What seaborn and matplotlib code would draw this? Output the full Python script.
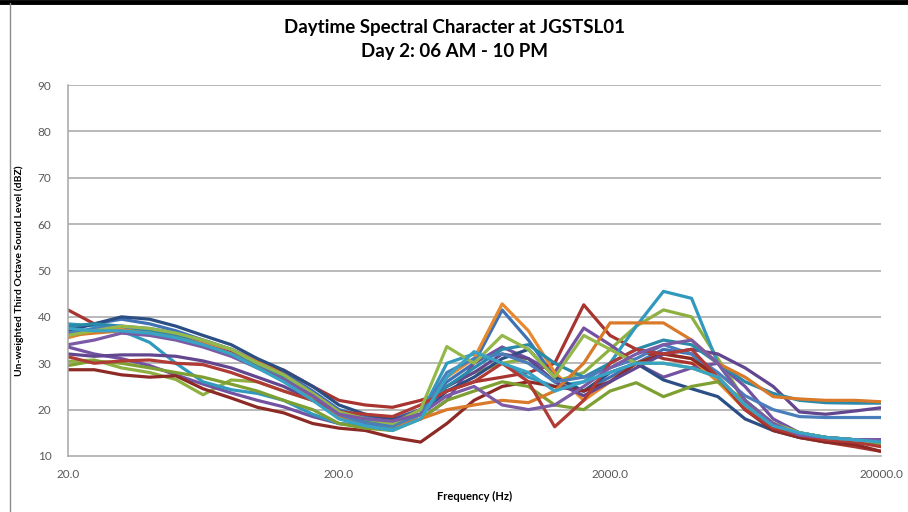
import numpy as np
import pandas as pd
import matplotlib
matplotlib.use("Agg")
import matplotlib.pyplot as plt
from matplotlib.lines import Line2D
import seaborn as sns

freqs = [20, 25, 31.5, 40, 50, 63, 80, 100, 125, 160, 200, 250, 315, 400, 500, 630,
         800, 1000, 1250, 1600, 2000, 2500, 3150, 4000, 5000, 6300, 8000, 10000,
         12500, 16000, 20000]

hours = ["06:00", "07:00", "08:00", "09:00", "10:00", "11:00", "12:00", "13:00", "14:00",
         "15:00", "16:00", "17:00", "18:00", "19:00", "20:00", "21:00", "22:00"]

h06 = [37.5, 38.5, 39.5, 38.5, 37, 35, 33, 30.5, 28, 24, 20, 18.5, 18, 20, 26, 30, 41.5, 35, 27, 24, 27, 30, 33, 32, 27, 21, 17, 15, 14, 13.5, 13.5]
h07 = [41.5, 38.5, 37, 36.5, 35.5, 34, 32.5, 30, 28.5, 25, 22, 21, 20.5, 22, 24, 26, 27, 28, 30, 42.6, 36, 33, 31, 30, 27, 21, 16, 14, 13, 12, 11]
h08 = [30.4, 30.7, 29, 28, 26.5, 23.2, 26.4, 26, 24, 22, 19, 17.5, 16, 19, 25, 28, 30, 31, 26, 28, 33, 38, 41.5, 40, 31, 22, 17, 15, 14, 13.5, 12.5]
h09 = [33.5, 32, 31, 29.5, 27.5, 25.5, 23.6, 22, 20.6, 18.5, 17, 16.5, 16, 18, 22, 30, 33.5, 31, 28, 37.6, 34, 30, 27, 29, 30, 25, 18, 15, 14, 13.5, 13.5]
h10 = [38.5, 38, 37, 34.5, 30, 26, 24.3, 23.5, 22, 19, 17, 16.5, 16, 19, 30, 32, 30, 27, 25, 26, 30, 38, 45.5, 44, 30, 22, 17, 15, 14, 13.5, 13]
h11 = [35.5, 37, 37.5, 37, 36, 34.5, 33, 30.5, 27.5, 23.5, 19.5, 18, 17.5, 19, 27, 31, 42.8, 37, 28, 22, 26, 30, 32, 31, 26, 20, 16.5, 14.5, 13.5, 13, 12.5]
h12 = [37, 38.5, 40, 39.5, 38, 36, 34, 31, 28.5, 25, 21, 19, 18, 19, 24, 27, 31, 33, 27, 24, 28, 30, 26.4, 24.5, 22.8, 18, 15.5, 14, 13.5, 13, 13.5]
h13 = [28.6, 28.6, 27.5, 27, 27.3, 24.5, 22.5, 20.5, 19.3, 17, 16, 15.5, 14, 13, 17, 22, 25, 26, 25, 24, 26, 30, 32, 31, 27, 20, 15.5, 14, 13, 12.5, 11]
h14 = [29.5, 30.5, 30, 29, 28, 27, 25.5, 24, 22, 20, 17, 16, 15.5, 18, 22, 24, 26, 25, 21, 20, 24, 25.8, 22.8, 25, 26, 22, 17, 15, 14, 13.5, 12.5]
h15 = [32, 31.5, 31.8, 31.8, 31.5, 30.5, 29, 27, 25, 22, 19, 18, 17.5, 20, 25, 28, 32, 31, 26, 23, 26, 29, 32, 33, 32, 29, 25, 19.5, 19, 19.7, 20.4]
h16 = [38, 38.5, 38, 37, 36, 34, 32, 29.5, 27, 23, 19, 17.5, 17, 19, 25, 29, 33, 34, 30, 27, 30, 33, 35, 34, 30, 26, 23.5, 22, 21.5, 21.4, 21.4]
h17 = [36, 36.5, 37, 36.5, 35.5, 34, 32, 29, 26.5, 22.5, 18.5, 17, 16.5, 18, 20, 21, 22, 21.5, 24, 30, 38.7, 38.7, 38.7, 35, 30, 27, 22.8, 22.3, 22, 22, 21.7]
h18 = [36.5, 37.5, 38, 37.5, 36.5, 35, 33, 30, 27.5, 23.5, 19, 17, 16.5, 19, 28, 31, 32, 30, 26, 27, 29, 31, 34, 32, 28, 23, 20, 18.5, 18.3, 18.3, 18.3]
h19 = [31.4, 30, 30.5, 30.7, 30, 29.7, 28, 26, 24, 22, 19.5, 19, 18.5, 21, 24, 26, 30, 26, 16.3, 22, 30, 33, 32, 33, 27, 20, 16, 14.5, 13.5, 13, 12]
h20 = [36, 37, 38, 37.5, 36.5, 35, 33, 30, 27.5, 23.5, 19.5, 18, 17, 20, 33.6, 30, 36, 33, 27, 36, 33, 30, 30, 29, 27, 21, 17, 15, 14, 13.5, 13]
h21 = [34, 35, 36.5, 36, 35, 33.5, 31.5, 29, 26.5, 23, 19, 18, 17.5, 19, 23, 25, 21, 20, 21, 25, 29, 32, 34, 35, 30, 22, 17, 14.5, 14, 13.5, 13.5]
h22 = [37.5, 37, 37, 36.5, 35.5, 34, 32, 29, 26, 22, 18, 16.5, 15.5, 18, 27, 32.5, 30, 28, 24, 26, 28, 30, 30, 29, 27, 21, 16.5, 15, 14, 13.5, 13]

series = [h06, h07, h08, h09, h10, h11, h12, h13, h14, h15, h16, h17, h18, h19, h20, h21, h22]

colors = ['#3F72B5', '#A83430', '#8DB040', '#7452A2', '#3099BD', '#E8892F',
          '#2B4F84', '#8E2A25', '#7EA032', '#62468F', '#2A8AAA', '#D9792A',
          '#4A7EBB', '#B03A35', '#94B84A', '#7B5AA6', '#38A3C4']

title_lines = ["Daytime Spectral Character at JGSTSL01", "Day 2: 06 AM - 10 PM"]
x_label = "Frequency (Hz)"
y_label = "Un-weighted Third Octave Sound Level (dBZ)"
x_ticks = [20, 200, 2000, 20000]
y_ticks = [10, 20, 30, 40, 50, 60, 70, 80, 90]

rows = []
for h, vals in zip(hours, series):
    for f, v in zip(freqs, vals):
        rows.append({"hour": h, "freq": f, "level": v})
df = pd.DataFrame(rows)

sns.set_theme(style="white")
plt.rcParams['font.family'] = ['Lato', 'DejaVu Sans']

fig = plt.figure(figsize=(9.08, 5.12), dpi=100)
ax = fig.add_axes([68 / 908, 1 - 456 / 512, (881 - 68) / 908, (456 - 85) / 512])

sns.lineplot(data=df, x="freq", y="level", hue="hour", palette=colors,
             legend=False, linewidth=2.3, ax=ax, sort=True)

ax.set_xscale("log")
ax.set_xlim(20, 20000)
ax.set_ylim(10, 90)
ax.set_xticks(x_ticks)
ax.set_xticklabels([f"{t:.1f}" for t in x_ticks])
ax.xaxis.set_minor_locator(matplotlib.ticker.NullLocator())
ax.set_yticks(y_ticks)
ax.set_yticklabels([str(t) for t in y_ticks])
ax.tick_params(axis="both", length=0, labelsize=8.5, labelcolor="#595959")
ax.tick_params(axis="x", pad=9)
ax.tick_params(axis="y", pad=12)

for y in y_ticks[1:]:
    ax.axhline(y, color="#A6A6A6", lw=1.1, zorder=0)
for s in ["top", "right"]:
    ax.spines[s].set_visible(False)
for s in ["left", "bottom"]:
    ax.spines[s].set_color("#A6A6A6")
    ax.spines[s].set_linewidth(1.1)

ax.set_xlabel(x_label, fontsize=8, fontweight="bold", color="#000000", labelpad=8)
ax.set_ylabel(y_label, fontsize=7.5, fontweight="bold", color="#000000", labelpad=10)

fig.text(455 / 908, 1 - 28 / 512, title_lines[0], ha="center", va="center",
         fontsize=13.5, fontweight="bold", color="#000000")
fig.text(455 / 908, 1 - 52 / 512, title_lines[1], ha="center", va="center",
         fontsize=13.5, fontweight="bold", color="#000000")

fig.add_artist(Line2D([0, 1], [1 - 1.5 / 512, 1 - 1.5 / 512], transform=fig.transFigure,
                      color="black", lw=3.5))
fig.add_artist(Line2D([9.5 / 908, 9.5 / 908], [0, 1 - 3 / 512], transform=fig.transFigure,
                      color="#8C8C8C", lw=1.0))

fig.savefig("out.png", dpi=100)
